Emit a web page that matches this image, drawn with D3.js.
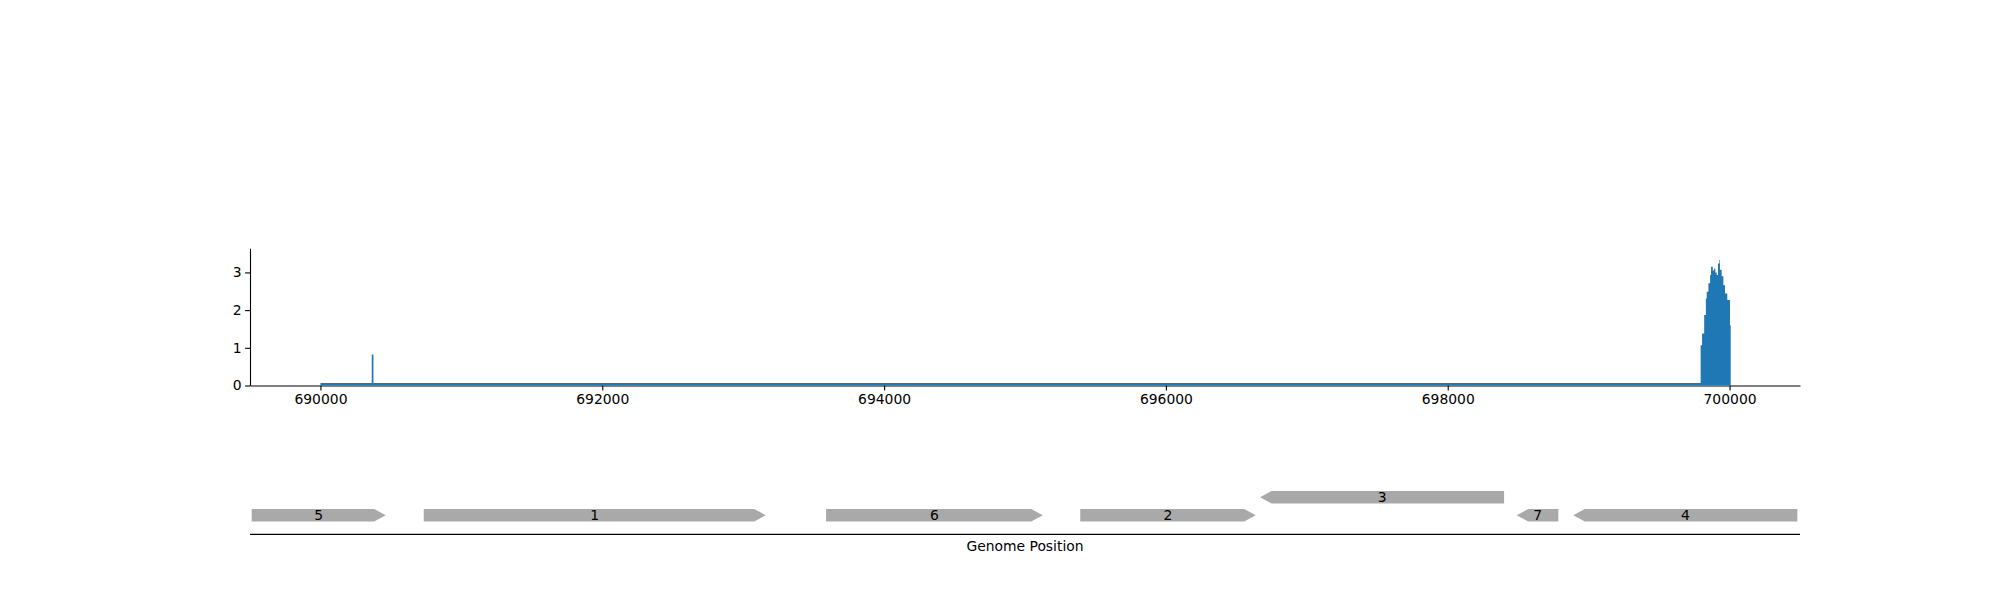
<!DOCTYPE html>
<html>
<head>
<meta charset="utf-8">
<script src="https://cdn.jsdelivr.net/npm/d3@7"></script>
<style>
  html, body { margin: 0; padding: 0; background: #fff; }
  svg { display: block; font-family: "DejaVu Sans", sans-serif; }
</style>
</head>
<body>
<svg id="chart" width="2000" height="600"></svg>
<script>
// ---- Data ----
// coverage as step series: position where each step begins, and its value
const covPos = [690000, 690364, 690376, 699795, 699805, 699820, 699832, 699838, 699850, 699862, 699869, 699881, 699890, 699899, 699909, 699918, 699928, 699932, 699944, 699956, 699968, 699984, 700003, 700008];
const covVal = [0, 0.82, 0, 1.07, 1.38, 1.87, 2.31, 2.49, 2.71, 2.93, 3.15, 3.05, 3.10, 3.00, 2.93, 3.24, 3.33, 3.07, 2.90, 2.66, 2.44, 2.27, 1.60, 0];

const xTicks = [690000, 692000, 694000, 696000, 698000, 700000];
const yTicks = [0, 1, 2, 3];

const geneNames  = ["5", "1", "6", "2", "3", "7", "4"];
const geneStart  = [689512, 690733, 693588, 695392, 696668, 698490, 698891];
const geneEnd    = [690463, 693160, 695126, 696637, 698400, 698785, 700481];
const geneStrand = [1, 1, 1, 1, -1, -1, -1];
const geneRow    = [0, 0, 0, 0, 1, 0, 0];

const xLabel = "Genome Position";

// ---- Layout ----
const svg = d3.select("#chart");
const X0 = 250, X1 = 1800;
const covTop = 248.3, covBottom = 385.5;

const x = d3.scaleLinear().domain([689500, 700500]).range([X0, X1]);
const y = d3.scaleLinear().domain([0, 3.64]).range([covBottom, covTop]);

const font = "DejaVu Sans";
const fs = 13.9;

// axes
const xAxis = d3.axisBottom(x).tickValues(xTicks).tickFormat(d3.format("d"))
  .tickSizeInner(4.9).tickSizeOuter(0).tickPadding(3.9);
const gx = svg.append("g").attr("transform", `translate(0,${covBottom})`).call(xAxis);
const yAxis = d3.axisLeft(y).tickValues(yTicks).tickFormat(d3.format("d"))
  .tickSizeInner(4.9).tickSizeOuter(0).tickPadding(3.5);
const gy = svg.append("g").attr("transform", `translate(${X0},0)`).call(yAxis);
[gx, gy].forEach(g => {
  g.selectAll("text").attr("font-family", font).attr("font-size", fs).attr("fill", "#000");
  g.selectAll("line").attr("stroke", "#000").attr("stroke-width", 1.1);
  g.select(".domain").attr("stroke", "#000").attr("stroke-width", 1.1);
});

// coverage (with a minimum drawn thickness so zero-coverage stretches show as a thin band)
const cov = covPos.map((p, i) => ({p, v: covVal[i]}));
const minBand = 2.4;
const area = d3.area().curve(d3.curveStepAfter)
  .x(d => x(d.p)).y0(y(0) - 0.3).y1(d => Math.min(y(d.v), y(0) - minBand));
svg.append("path").datum(cov).attr("d", area).attr("fill", "#1f77b4");

// gene track
const rowCenter = d3.scaleLinear().domain([0, 1]).range([515.3, 497.2]);
const gh = 12.5, head = 11.5;
const genes = geneNames.map((n, i) => ({
  name: n, s: geneStart[i], e: geneEnd[i], strand: geneStrand[i], row: geneRow[i]
}));
const gg = svg.append("g");
genes.forEach(g => {
  const xs = x(g.s), xe = x(g.e), cy = rowCenter(g.row);
  const t = cy - gh / 2, b = cy + gh / 2;
  let pts;
  if (g.strand > 0) {
    pts = [[xs, t], [xe - head, t], [xe, cy], [xe - head, b], [xs, b]];
  } else {
    pts = [[xe, t], [xs + head, t], [xs, cy], [xs + head, b], [xe, b]];
  }
  gg.append("polygon").attr("points", pts.map(p => p.join(",")).join(" "))
    .attr("fill", "#a9a9a9");
  gg.append("text").attr("x", (xs + xe) / 2).attr("y", cy + 4.6)
    .attr("text-anchor", "middle").attr("font-family", font).attr("font-size", fs)
    .attr("fill", "#000").text(g.name);
});

// track baseline
svg.append("line").attr("x1", X0).attr("x2", X1).attr("y1", 534.3).attr("y2", 534.3)
  .attr("stroke", "#000").attr("stroke-width", 1.3);
svg.append("text").attr("x", (X0 + X1) / 2).attr("y", 551)
  .attr("text-anchor", "middle").attr("font-family", font).attr("font-size", fs)
  .attr("fill", "#000").text(xLabel);
</script>
</body>
</html>
